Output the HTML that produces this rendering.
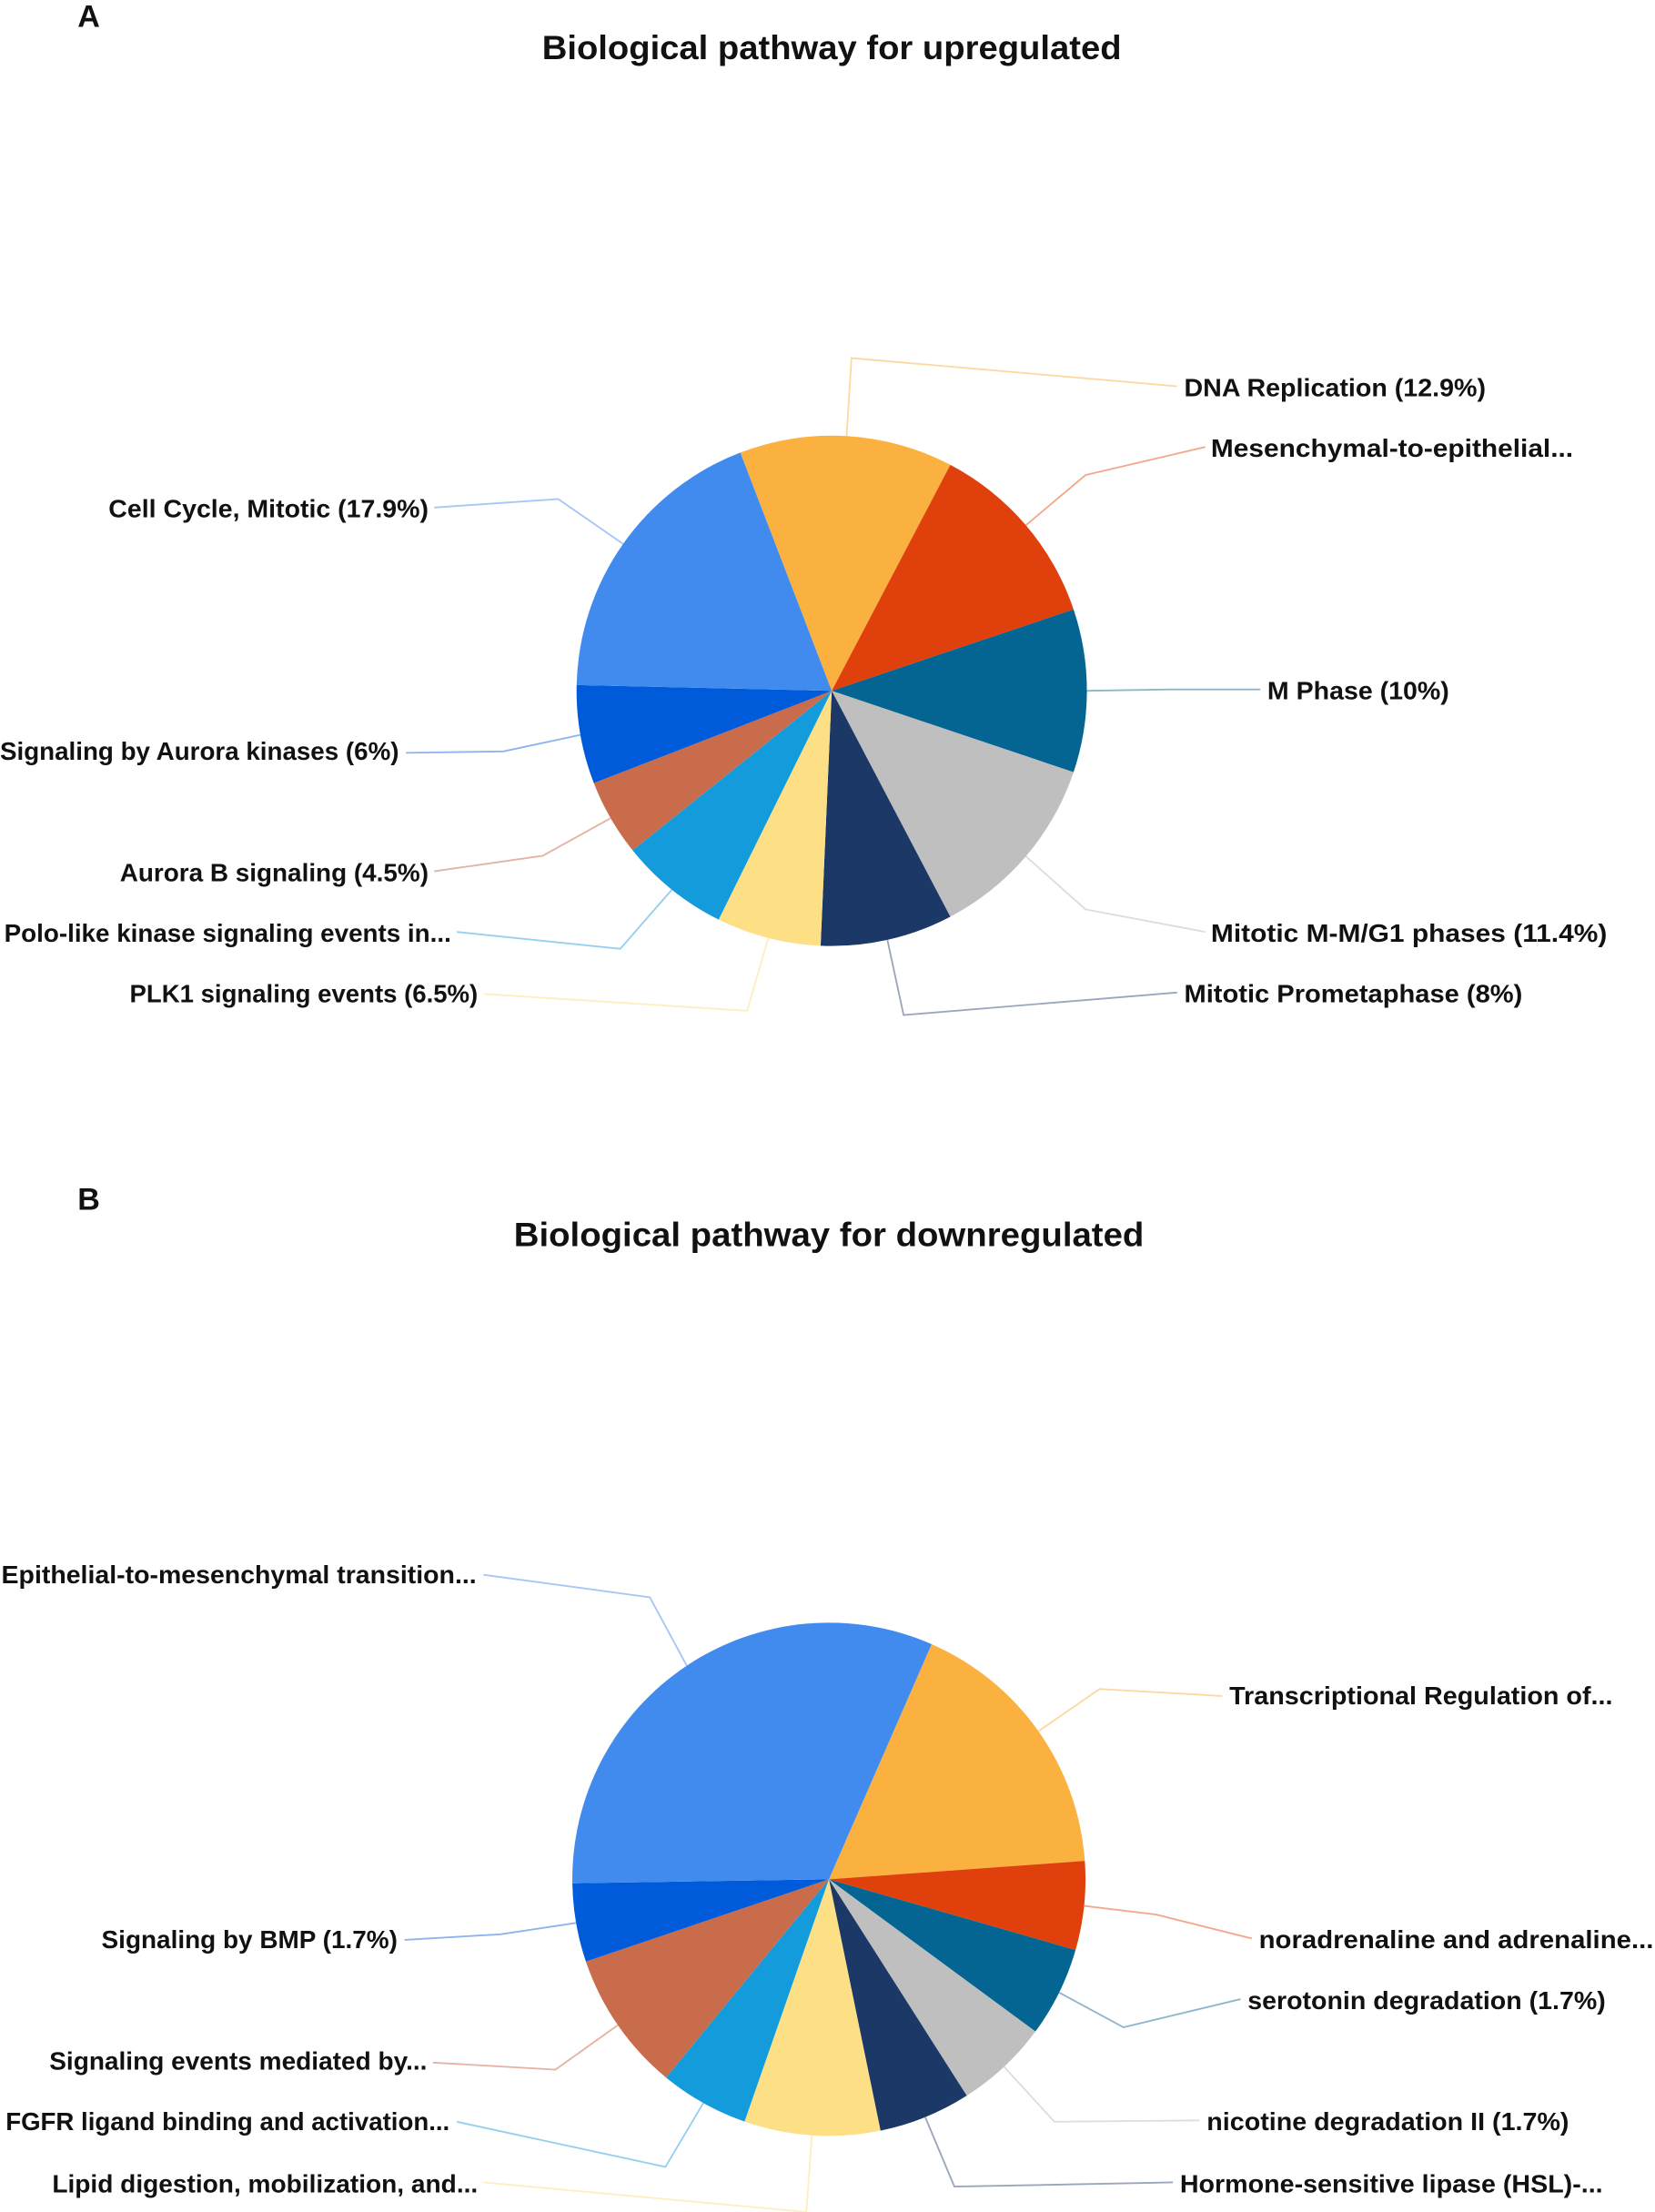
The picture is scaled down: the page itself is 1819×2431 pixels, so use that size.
<!DOCTYPE html>
<html><head><meta charset="utf-8">
<style>
html,body{margin:0;padding:0;background:#fff;}
svg{display:block;}
text{font-family:"Liberation Sans",sans-serif;font-weight:bold;fill:#111;}
</style></head>
<body>
<svg id="chart" width="1819" height="2431" viewBox="0 0 1174 1569" xmlns="http://www.w3.org/2000/svg">
  <text x="55" y="19" font-size="22">A</text>
  <text x="590" y="42" font-size="24" text-anchor="middle" textLength="411" lengthAdjust="spacingAndGlyphs">Biological pathway for upregulated</text>
  <text x="55" y="858" font-size="22">B</text>
  <text x="588" y="884" font-size="24" text-anchor="middle" textLength="447" lengthAdjust="spacingAndGlyphs">Biological pathway for downregulated</text>
  <g id="pieA"></g>
  <g id="pieB"></g>
</svg>
<script>
// Chart A data (slice sizes, clockwise from start angle)
const catsA = ["DNA Replication (12.9%)","Mesenchymal-to-epithelial...","M Phase (10%)","Mitotic M-M/G1 phases (11.4%)","Mitotic Prometaphase (8%)","PLK1 signaling events (6.5%)","Polo-like kinase signaling events in...","Aurora B signaling (4.5%)","Signaling by Aurora kinases (6%)","Cell Cycle, Mitotic (17.9%)"];
const valsA = [48.7,43.7,37.2,43.7,30.2,23.8,25,17.5,22.5,67.7];
// Chart B data
const catsB = ["Transcriptional  Regulation  of...","noradrenaline  and  adrenaline...","serotonin degradation (1.7%)","nicotine degradation II (1.7%)","Hormone-sensitive  lipase  (HSL)-...","Lipid digestion, mobilization, and...","FGFR ligand binding and activation...","Signaling events mediated by...","Signaling by BMP (1.7%)","Epithelial-to-mesenchymal transition..."];
const valsB = [62.3,20.1,20.4,21.1,20.9,30.8,20.2,31.9,17.8,114.5];

const colors = ["#FAB13F","#E0410C","#046592","#BFBFBF","#1B3866","#FDE086","#139BDB","#C96C4B","#005BDB","#418BEF"];
const lineColors = ["#FCD9A3","#F2A98E","#8FB5CB","#DDDDDD","#9AA6BC","#FDEFC0","#96CFEF","#E4B3A3","#8FB3EE","#A6C6F6"];

const layoutA = {cx:590,cy:490,r:181,start:-21,
  labels:[[604,254,835,274,840,281,"start",214],[770,337,855,317,859,324,"start",257],[830,489,894,489,899,496,"start",129],[770,645,855,661,859,668,"start",281],[641,720,835,704,840,711,"start",240],[530,717,343,705,339,711,"end",247],[440,673,324,661,320,668,"end",317],[385,607,308,618,304,625,"end",219],[357,533,288,534,283,539,"end",283],[396,354,308,360,304,367,"end",227]]};
const layoutB = {cx:588,cy:1333,r:182,start:23.6,
  labels:[[780,1198,867,1203,872,1209,"start",272],[820,1358,888,1375,893,1382,"start",280],[797,1438,880,1418,885,1425,"start",254],[748,1505,851,1504,856,1511,"start",257],[677,1551,832,1548,837,1555,"start",300],[572,1569,343,1548,339,1555,"end",302],[472,1537,324,1505,319,1511,"end",315],[394,1468,307,1463,303,1468,"end",268],[355,1372,287,1376,282,1382,"end",210],[461,1133,343,1117,338,1123,"end",337]]};
const NS="http://www.w3.org/2000/svg";
function pt(L,deg,rad){const a=deg*Math.PI/180;return [L.cx+rad*Math.sin(a),L.cy-rad*Math.cos(a)];}
function drawPie(gid,cats,vals,L,prefix){
  const g=document.getElementById(gid);
  const total=vals.reduce((a,b)=>a+b,0);
  let ang=L.start;
  vals.forEach((v,i)=>{
    const span=v/total*360;
    const p0=pt(L,ang,L.r),p1=pt(L,ang+span,L.r);
    const path=document.createElementNS(NS,"path");
    path.setAttribute("d",`M${L.cx},${L.cy}L${p0[0]},${p0[1]}A${L.r},${L.r} 0 ${span>180?1:0} 1 ${p1[0]},${p1[1]}Z`);
    path.setAttribute("fill",colors[i]);
    
    
    g.appendChild(path);
    const lb=L.labels[i];
    const m=pt(L,ang+span/2,L.r);
    const line=document.createElementNS(NS,"polyline");
    line.setAttribute("points",`${m[0]},${m[1]} ${lb[0]},${lb[1]} ${lb[2]},${lb[3]}`);
    line.setAttribute("fill","none");line.setAttribute("stroke",lineColors[i]);line.setAttribute("stroke-width","1.2");
    
    
    g.appendChild(line);
    const t=document.createElementNS(NS,"text");
    t.setAttribute("x",lb[4]);t.setAttribute("y",lb[5]);t.setAttribute("text-anchor",lb[6]);
    t.setAttribute("font-size","18");t.setAttribute("textLength",lb[7]);t.setAttribute("lengthAdjust","spacingAndGlyphs");
    t.textContent=cats[i];
    
    
    g.appendChild(t);
    ang+=span;
  });
}
drawPie("pieA",catsA,valsA,layoutA,"up");
drawPie("pieB",catsB,valsB,layoutB,"down");
</script>
</body></html>
